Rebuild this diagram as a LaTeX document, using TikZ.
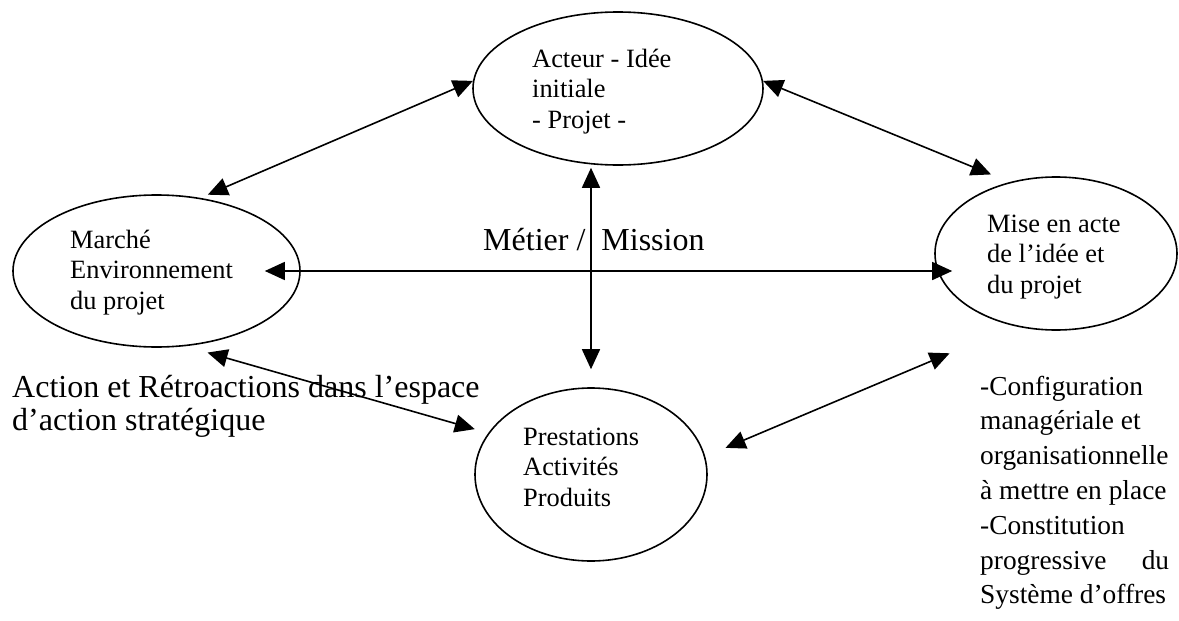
\documentclass[tikz,border=0pt]{standalone}
\usepackage{fontspec}
\setmainfont{Liberation Serif}
\usetikzlibrary{arrows.meta,shapes.geometric}
\begin{document}
\begin{tikzpicture}[x=1pt,y=-1pt,
  bubble/.style={draw, line width=1.6pt, ellipse, inner sep=0pt},
  small/.style={inner sep=0pt, anchor=base west, font=\fontsize{26.4}{30.5}\selectfont},
  big/.style={inner sep=0pt, anchor=base west, font=\fontsize{32}{33}\selectfont},
  side/.style={inner sep=0pt, anchor=base west, font=\fontsize{27.4}{34.8}\selectfont},
  conn/.style={arrows={Triangle[length=20pt,width=18pt]-Triangle[length=20pt,width=18pt]}, line width=1.6pt}]
\useasboundingbox[fill=white] (0,0) rectangle (1179,621);
% ellipses
\node[bubble, minimum width=290pt, minimum height=153pt] (T) at (618,88.5) {};
\node[bubble, minimum width=287pt, minimum height=152pt] (L) at (156.5,271) {};
\node[bubble, minimum width=242pt, minimum height=153pt] (R) at (1056,253.5) {};
\node[bubble, minimum width=232pt, minimum height=173pt] (B) at (591,474.5) {};
% ellipse texts
\node[small] (tT) at (532,67) {\parbox[t]{200pt}{\raggedright Acteur - Idée\\initiale\\- Projet -}};
\node[small] (tL) at (70,248) {\parbox[t]{200pt}{\raggedright Marché\\Environnement\\du projet}};
\node[small] (tR) at (987,232) {\parbox[t]{180pt}{\raggedright Mise en acte\\de l’idée et\\du projet}};
\node[small] (tB) at (523,445) {\parbox[t]{180pt}{\raggedright Prestations\\Activités\\Produits}};
% free texts
\node[big] (tM) at (483,250) {Métier / \ Mission};
\node[big] (tA) at (12,397) {\parbox[t]{500pt}{\raggedright Action et Rétroactions dans l’espace\\d’action stratégique}};
\node[side] (tS) at (980,395) {\parbox[t]{189pt}{\raggedright -Configuration\\managériale et\\organisationnelle\\à mettre en place\\-Constitution\\progressive\hfill du\\Système d’offres}};
% connectors
\draw[conn, shorten <=8pt] (L.59) -- (T.177);
\draw[conn, shorten >=20pt] (T.3) -- (R.123);
\draw[conn, shorten <=2pt, shorten >=18pt] (B.north |- T.south) -- (B.north);
\draw[conn, shorten <=-36pt, shorten >=-18pt] (L.east) -- (L.east -| R.west);
\draw[conn, shorten <=23pt, shorten >=14pt] (L.-69) -- (B.158);
\draw[conn, shorten <=22pt, shorten >=70pt] (B.9) -- (R.240);
\end{tikzpicture}
\end{document}
